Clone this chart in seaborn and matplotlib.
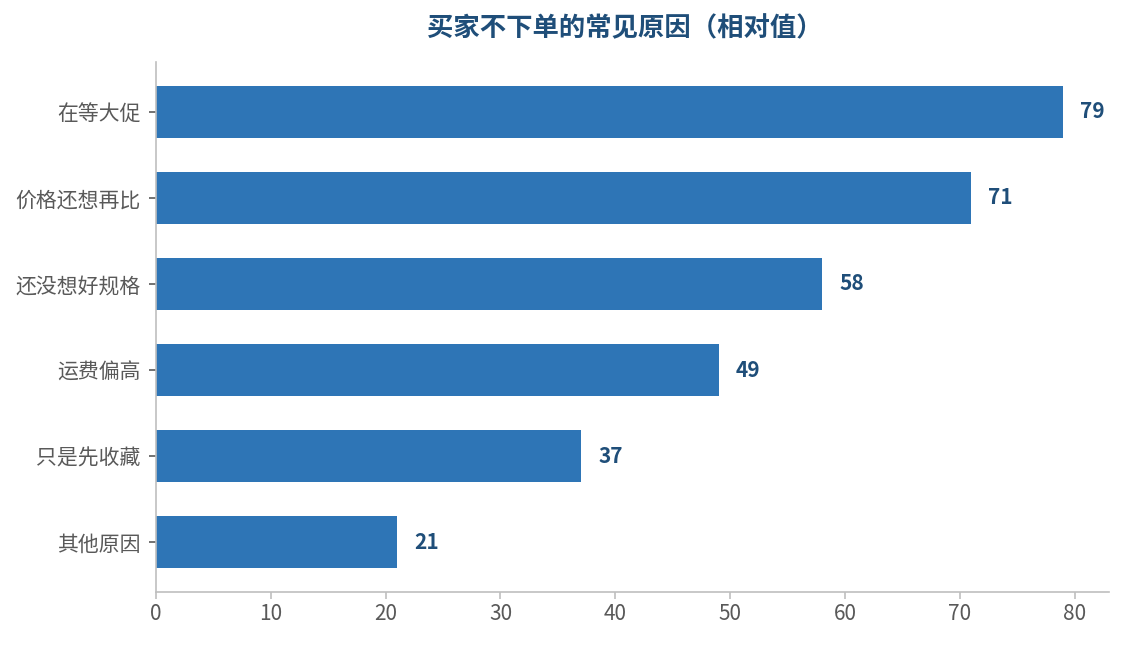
import matplotlib
matplotlib.use("Agg")
import matplotlib.pyplot as plt
import seaborn as sns
import pandas as pd

reasons = ["在等大促", "价格还想再比", "还没想好规格", "运费偏高", "只是先收藏", "其他原因"]
values = [79, 71, 58, 49, 37, 21]
x_ticks = [0, 10, 20, 30, 40, 50, 60, 70, 80]
title = "买家不下单的常见原因（相对值）"

BAR = "#2e75b6"
DARK = "#1f4e79"
GRAY = "#595959"
SPINE = "#bfbfbf"

sns.set_theme(style="white")
plt.rcParams['font.family'] = ['Noto Sans CJK SC', 'DejaVu Sans']

df = pd.DataFrame({"reason": reasons, "value": values})

fig = plt.figure(figsize=(11.24, 6.45), dpi=100)
ax = fig.add_axes([0.1388, 0.0822, 0.8479, 0.8217])
sns.barplot(data=df, x="value", y="reason", color=BAR, width=0.6,
            saturation=1, ax=ax, order=reasons, linewidth=0)

for p, v in zip(ax.patches, values):
    y = p.get_y() + p.get_height() / 2
    ax.text(v + 1.5, y, str(v), va="center", ha="left",
            fontsize=15, fontweight="bold", color=DARK)

ax.set_xlim(0, 83)
ax.set_ylim(5.58, -0.58)
ax.set_xticks(x_ticks)
ax.set_xlabel("")
ax.set_ylabel("")
ax.tick_params(axis="x", bottom=True, colors=SPINE, labelcolor=GRAY,
               labelsize=15, length=5, width=1.2, pad=3)
ax.tick_params(axis="y", left=True, colors=GRAY, labelcolor=GRAY,
               labelsize=15, length=5, width=1.2, pad=6)

sns.despine(ax=ax)
for side in ["left", "bottom"]:
    ax.spines[side].set_color(SPINE)
    ax.spines[side].set_linewidth(1.2)

fig.text(0.556, 0.955, title, ha="center", va="center",
         fontsize=19, fontweight="bold", color=DARK)

plt.savefig("out.png", dpi=100)
